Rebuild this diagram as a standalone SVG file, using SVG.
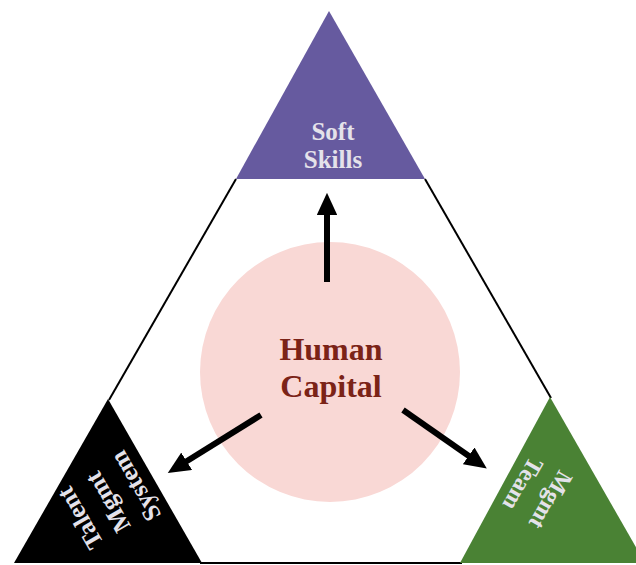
<svg xmlns="http://www.w3.org/2000/svg" width="636" height="565" viewBox="0 0 636 565">
<style>
.edge{stroke:#000;stroke-width:2;fill:none}
.arr{stroke:#000;stroke-width:6;fill:none}
.lbl{font-family:"Liberation Serif","Times New Roman",serif;font-weight:bold;fill:#e4e2ea;text-anchor:middle}
.hc{font-family:"Liberation Serif","Times New Roman",serif;font-weight:bold;fill:#7b2317;font-size:32px;text-anchor:middle}
</style>
<defs>
<marker id="ah" markerWidth="3.7" markerHeight="3.4" refX="1.5" refY="1.7" orient="auto" markerUnits="strokeWidth">
<path d="M0,0 L3.7,1.7 L0,3.4 Z" fill="#000"/>
</marker>
</defs>
<rect width="636" height="565" fill="#fff"/>
<g id="frame">
<line class="edge" x1="236" y1="179" x2="109" y2="400"/>
<line class="edge" x1="425" y1="179" x2="551" y2="398"/>
<line class="edge" x1="200" y1="563" x2="462" y2="563"/>
</g>
<g id="human-capital">
<circle cx="330" cy="372" r="130" fill="#f9d8d5"/>
<text class="hc" x="331" y="360">Human</text>
<text class="hc" x="331" y="397">Capital</text>
</g>
<g id="soft-skills">
<polygon points="329,11 425,179 236,179" fill="#665a9f"/>
<text class="lbl" font-size="25" x="333" y="140">Soft</text>
<text class="lbl" font-size="25" x="333" y="168">Skills</text>
</g>
<g id="talent-mgmt-system">
<polygon points="108,399 202,563 14,563" fill="#000"/>
<g transform="translate(108,502) rotate(-120)">
<text class="lbl" font-size="25" x="0" y="-24">Talent</text>
<text class="lbl" font-size="25" x="0" y="8">Mgmt</text>
<text class="lbl" font-size="25" x="0" y="40">System</text>
</g>
</g>
<g id="mgmt-team">
<polygon points="550,397 645,563 460,563" fill="#4a8234"/>
<g transform="translate(537,492) rotate(120)">
<text class="lbl" font-size="24" x="0" y="-8">Mgmt</text>
<text class="lbl" font-size="24" x="0" y="24">Team</text>
</g>
</g>
<g id="connectors">
<line class="arr" x1="327" y1="282" x2="327" y2="206" marker-end="url(#ah)"/>
<line class="arr" x1="261" y1="415" x2="179" y2="466" marker-end="url(#ah)"/>
<line class="arr" x1="403" y1="410" x2="476" y2="461" marker-end="url(#ah)"/>
</g>
</svg>
